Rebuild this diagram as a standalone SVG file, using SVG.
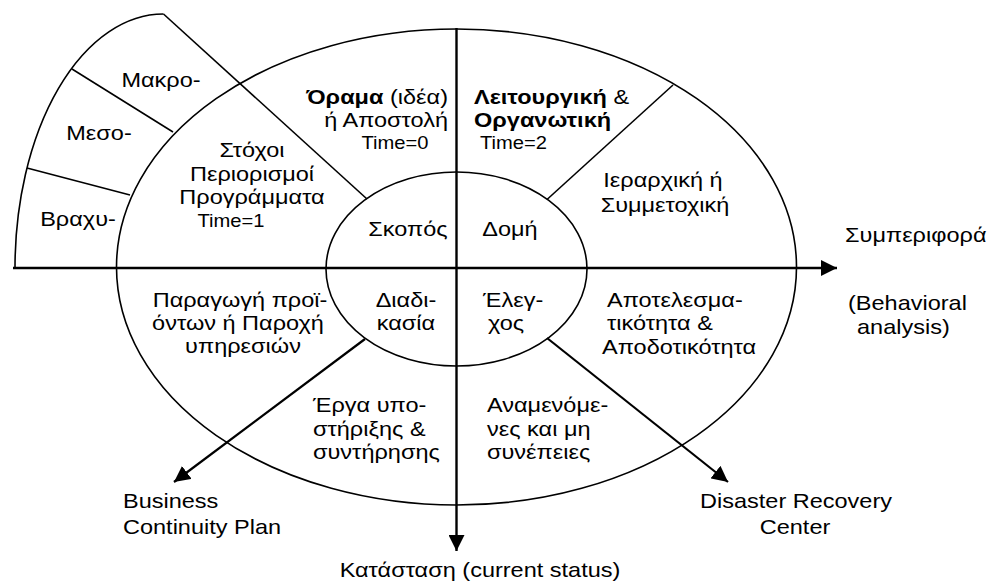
<svg xmlns="http://www.w3.org/2000/svg" width="992" height="582" viewBox="0 0 992 582">
<style>
.bg{fill:#fff}
.ln{fill:none;stroke:#000;stroke-width:1.6}
.ax{fill:none;stroke:#000;stroke-width:2.4}
.ar{fill:none;stroke:#000;stroke-width:2.2}
text{font-family:"Liberation Sans",Arial,sans-serif;font-size:21px;fill:#000}
.tm{font-size:18px}
.b{font-weight:bold}
.m{text-anchor:middle}
.e{text-anchor:end}
</style>
<defs>
<marker id="ah" viewBox="0 0 16 16" refX="16" refY="8" markerWidth="16" markerHeight="16" markerUnits="userSpaceOnUse" orient="auto">
<path d="M0,0 L16,8 L0,16 z" fill="#000"/>
</marker>
</defs>
<rect class="bg" x="0" y="0" width="992" height="582"/>

<g id="horizon-arc">
<path class="ln" d="M15,268 A148.5,254 0 0 1 163.5,14"/>
<line class="ln" x1="72" y1="69" x2="173" y2="132"/>
<line class="ln" x1="27" y1="168" x2="130" y2="195"/>
<text transform="translate(161,87) scale(1.12,1)" class="m">Μακρο-</text>
<text transform="translate(99,140) scale(1.12,1)" class="m">Μεσο-</text>
<text transform="translate(78,226) scale(1.12,1)" class="m">Βραχυ-</text>
</g>

<g id="outer-ellipse">
<ellipse class="ln" cx="456.5" cy="267" rx="340" ry="238"/>
<line class="ln" x1="163.5" y1="14" x2="367" y2="199"/>
<line class="ln" x1="547" y1="199.5" x2="673" y2="85"/>
</g>

<g id="inner-ellipse">
<ellipse class="ln" cx="456.5" cy="269" rx="130.5" ry="97"/>
</g>

<g id="connectors">
<line class="ax" x1="13" y1="268" x2="837" y2="268" marker-end="url(#ah)"/>
<line class="ax" x1="456.5" y1="28" x2="456.5" y2="551" marker-end="url(#ah)"/>
<line class="ar" x1="365" y1="339" x2="174" y2="482" marker-end="url(#ah)"/>
<line class="ar" x1="547" y1="338" x2="728" y2="482" marker-end="url(#ah)"/>
</g>

<g id="goals">
<text transform="translate(252,157) scale(1.12,1)" class="m">Στόχοι</text>
<text transform="translate(252,181) scale(1.12,1)" class="m">Περιορισμοί</text>
<text transform="translate(252,204) scale(1.12,1)" class="m">Προγράμματα</text>
<text transform="translate(231,227) scale(1.12,1)" class="m tm">Time=1</text>
</g>

<g id="vision">
<text transform="translate(448,104) scale(1.12,1)" class="e"><tspan class="b">Όραμα</tspan> (ιδέα)</text>
<text transform="translate(448,127) scale(1.12,1)" class="e">ή Αποστολή</text>
<text transform="translate(395,149) scale(1.12,1)" class="m tm">Time=0</text>
</g>

<g id="organisation">
<text transform="translate(474,104) scale(1.12,1)"><tspan class="b">Λειτουργική</tspan> &amp;</text>
<text transform="translate(474,127) scale(1.12,1)" class="b">Οργανωτική</text>
<text transform="translate(480,149) scale(1.12,1)" class="tm">Time=2</text>
</g>

<g id="hierarchy">
<text transform="translate(663,187) scale(1.12,1)" class="m">Ιεραρχική ή</text>
<text transform="translate(665,212) scale(1.12,1)" class="m">Συμμετοχική</text>
</g>

<g id="purpose">
<text transform="translate(408,236) scale(1.12,1)" class="m">Σκοπός</text>
</g>
<g id="structure">
<text transform="translate(510,236) scale(1.12,1)" class="m">Δομή</text>
</g>
<g id="process">
<text transform="translate(406,307) scale(1.12,1)" class="m">Διαδι-</text>
<text transform="translate(406,330) scale(1.12,1)" class="m">κασία</text>
</g>
<g id="control">
<text transform="translate(483,307) scale(1.12,1)">Έλεγ-</text>
<text transform="translate(488,330) scale(1.12,1)">χος</text>
</g>

<g id="production">
<text transform="translate(240,307) scale(1.12,1)" class="m">Παραγωγή προϊ-</text>
<text transform="translate(238,330) scale(1.12,1)" class="m">όντων ή Παροχή</text>
<text transform="translate(243,353) scale(1.12,1)" class="m">υπηρεσιών</text>
</g>

<g id="effectiveness">
<text transform="translate(607,307) scale(1.12,1)">Αποτελεσμα-</text>
<text transform="translate(607,330) scale(1.12,1)">τικότητα &amp;</text>
<text transform="translate(602,354) scale(1.12,1)">Αποδοτικότητα</text>
</g>

<g id="support">
<text transform="translate(313,412) scale(1.12,1)">Έργα υπο-</text>
<text transform="translate(313,436) scale(1.12,1)">στήριξης &amp;</text>
<text transform="translate(313,459) scale(1.12,1)">συντήρησης</text>
</g>

<g id="consequences">
<text transform="translate(487,412) scale(1.12,1)">Αναμενόμε-</text>
<text transform="translate(487,436) scale(1.12,1)">νες και μη</text>
<text transform="translate(487,459) scale(1.12,1)">συνέπειες</text>
</g>

<g id="behaviour">
<text transform="translate(845,242) scale(1.12,1)">Συμπεριφορά</text>
<text transform="translate(848,310) scale(1.12,1)">(Behavioral</text>
<text transform="translate(857,334) scale(1.12,1)">analysis)</text>
</g>

<g id="bcp">
<text transform="translate(123,508) scale(1.12,1)">Business</text>
<text transform="translate(123,534) scale(1.12,1)">Continuity Plan</text>
</g>

<g id="drc">
<text transform="translate(796,508) scale(1.12,1)" class="m">Disaster Recovery</text>
<text transform="translate(795,534) scale(1.12,1)" class="m">Center</text>
</g>

<g id="status">
<text transform="translate(480,577) scale(1.12,1)" class="m">Κατάσταση (current status)</text>
</g>
</svg>
